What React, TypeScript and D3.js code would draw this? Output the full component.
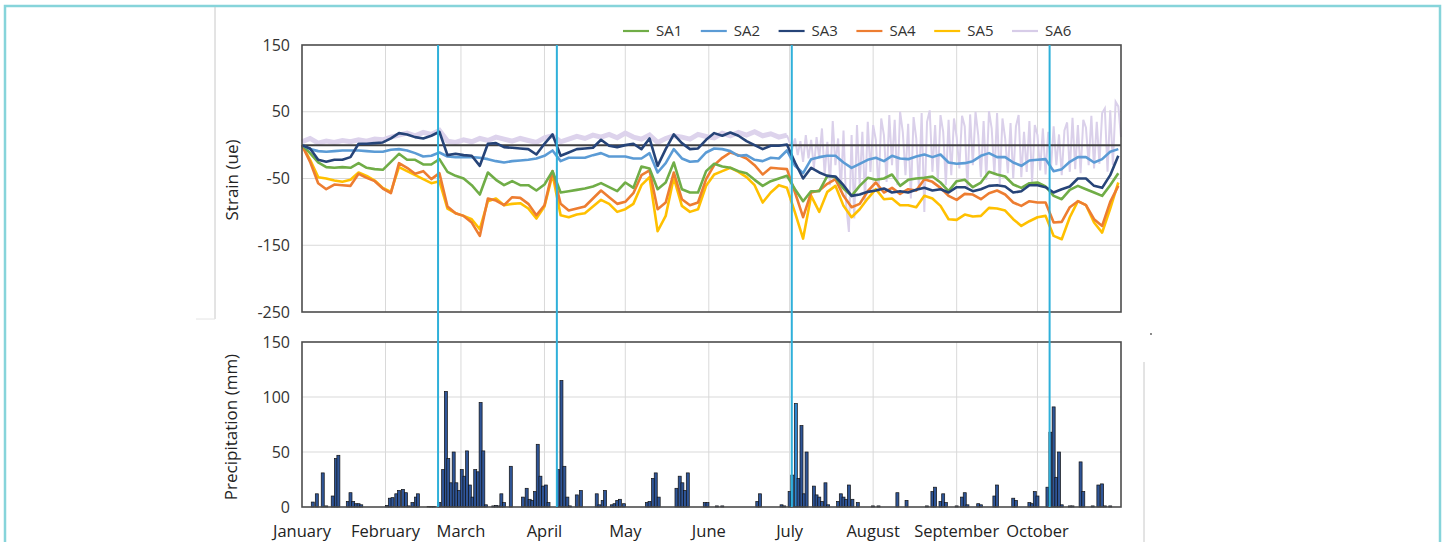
import { useRef, useEffect } from 'react';
import * as d3 from 'd3';

// time axis: Jan 1 .. Nov 1, strain sampled every 3 days
const START = Date.UTC(2019, 0, 1);
const END = Date.UTC(2019, 10, 1);
const STEP_DAYS = 3;
const DAY_MS = 86400000;

const SA1 = [
  0, -12, -26, -33, -34, -33, -34, -27, -34, -36, -37, -25, -13, -22, -22, -29, -29, -21, -40, -46,
  -50, -60, -74, -41, -52, -60, -54, -60, -60, -68, -59, -39, -71, -69, -67, -65, -62, -57, -63, -69,
  -56, -64, -32, -35, -66, -56, -26, -66, -71, -71, -39, -28, -32, -34, -39, -42, -52, -61, -54, -50,
  -46, -66, -84, -69, -69, -46, -48, -65, -76, -61, -49, -52, -50, -44, -61, -52, -50, -49, -47, -56,
  -69, -54, -52, -63, -56, -40, -44, -47, -59, -64, -57, -56, -62, -76, -81, -67, -61, -66, -71, -76,
  -60, -42,
];
const SA2 = [
  0, -6, -9, -10, -9, -8, -8, -8, -9, -10, -10, -7, -6, -8, -12, -17, -16, -11, -17, -18,
  -18, -18, -19, -21, -24, -26, -24, -23, -22, -20, -16, -8, -24, -19, -19, -19, -15, -12, -17, -17,
  -17, -20, -20, -12, -41, -27, -6, -20, -25, -24, -11, -5, -6, -9, -16, -15, -22, -24, -19, -20,
  -8, -31, -42, -21, -18, -16, -16, -26, -34, -28, -22, -19, -24, -16, -20, -21, -17, -14, -18, -14,
  -26, -28, -27, -24, -16, -12, -18, -18, -26, -31, -23, -22, -21, -39, -36, -25, -18, -18, -26, -21,
  -10, -6,
];
const SA3 = [
  0, -5, -22, -25, -22, -22, -18, 2, 2, 3, 4, 10, 18, 16, 12, 10, 14, 20, -15, -13,
  -15, -16, -31, 2, 3, -3, -4, -5, -6, -14, 2, 16, -16, -11, -6, -5, -4, 8, -1, -3,
  0, 2, -6, 10, -31, -6, 16, 3, -6, -5, 8, 18, 14, 19, 14, 6, 0, -6, -1, -1,
  1, -26, -50, -34, -41, -46, -47, -60, -76, -74, -70, -68, -65, -71, -69, -71, -67, -64, -68, -66,
  -71, -63, -63, -69, -66, -61, -60, -62, -71, -69, -60, -60, -63, -71, -66, -62, -50, -50, -61, -64,
  -45, -16,
];
const SA4 = [
  0, -25, -57, -66, -59, -60, -61, -43, -49, -54, -65, -72, -27, -34, -43, -39, -51, -42, -92, -102,
  -106, -116, -136, -80, -83, -90, -78, -79, -88, -105, -90, -39, -88, -98, -95, -92, -80, -68, -78, -88,
  -85, -72, -45, -38, -96, -86, -41, -81, -90, -86, -51, -30, -19, -11, -15, -20, -30, -44, -34, -35,
  -36, -71, -108, -71, -68, -58, -51, -76, -93, -88, -69, -56, -71, -64, -73, -66, -68, -51, -55, -64,
  -76, -82, -73, -74, -81, -72, -68, -74, -86, -91, -84, -86, -86, -116, -115, -93, -84, -90, -111, -121,
  -85, -61,
];
const SA5 = [
  0, -22, -48, -50, -53, -55, -52, -41, -46, -53, -64, -70, -33, -39, -45, -51, -57, -54, -95, -102,
  -106, -111, -126, -84, -80, -90, -88, -87, -95, -110, -92, -44, -105, -108, -104, -102, -92, -82, -88, -100,
  -96, -88, -60, -48, -129, -106, -49, -91, -100, -96, -61, -44, -39, -34, -40, -48, -60, -86, -71, -60,
  -64, -101, -140, -76, -100, -70, -61, -91, -108, -96, -80, -66, -81, -80, -90, -90, -93, -76, -80, -91,
  -111, -112, -104, -107, -106, -94, -95, -98, -111, -121, -114, -108, -106, -136, -141, -108, -84, -90, -116, -131,
  -95, -56,
];
// SA6: smooth-ish until July (every 3 days), then daily spikes
const SA6_EARLY = [
  5, 10, 3, 6, 4, 7, 5, 8, 6, 9, 8, 12, 15, 18, 14, 19, 16, 22, 6, 4,
  8, 5, 10, 7, 12, 9, 6, 10, 7, 4, 11, 14, 5, 9, 13, 10, 15, 12, 16, 11,
  18, 12, 9, 15, 4, 10, 14, 12, 9, 16, 13, 11, 18, 14, 19, 15, 20, 14, 17, 12,
  15,
];
const SA6_LATE_START = 181;
const SA6_LATE = [
  4, -5, 10, -15, 6, -25, 15, -20, 8, -35,
  12, -20, 25, -45, 5, -60, 36, -30, 10, -70,
  22, -90, -130, 15, -110, 30, -60, 20, -85, 35,
  -40, 30, 8, -70, 40, 15, -55, 45, -30, 38,
  -60, 50, 20, -45, 32, -80, 42, 10, -65, 48,
  -100, 35, 52, -40, 30, -55, 45, 20, -60, 38,
  -45, 40, 12, -35, 44, 28, -65, 46, -30, 50,
  15, -48, 36, -52, 51, 25, -45, 48, -58, 40,
  10, -42, 33, -50, 28, 45, -48, 20, -40, 36,
  -55, 30, 15, -38, 25, -44, 20, -35, 28, -30,
  16, -45, 22, 34, -40, 41, -36, 30, -42, 38,
  26, -30, 44, -35, 35, -28, 48, 55, -40, 52,
  -30, 65, 58, 12,
];

// [day offset from Jan 1, mm]
const PRECIP: [number, number][] = [
  [4, 4.5], [5.5, 12], [7.7, 31], [9, 1], [11.4, 10], [12.6, 44], [13.5, 47], [17, 5], [18, 13], [19, 5],
  [20, 3], [21, 3], [22, 2], [31.5, 1.5], [32.6, 8], [33.6, 8.5], [35, 12], [36, 15], [37.5, 16], [38.6, 13],
  [39.6, 1], [41, 4], [42.3, 9], [43, 12], [47, 0.5], [48, 0.5], [49, 0.5], [51, 4], [52.4, 34], [53.4, 105],
  [54.3, 44], [55.3, 22], [56.3, 50], [57.3, 22], [58.3, 15], [59.3, 34], [60.3, 28], [61.3, 51], [62.3, 20], [63.3, 9],
  [64.3, 34], [65.3, 32], [66.3, 95], [67.3, 51], [68.3, 2], [71, 1], [72, 1.5], [73, 1], [74, 12], [75, 4],
  [77.5, 37], [82, 9], [83.4, 17], [84.5, 7], [85.5, 6], [86.5, 14], [87.5, 57], [88.5, 28], [89.5, 19], [90.5, 20],
  [91.5, 4], [95, 34], [96.3, 115], [97.4, 37], [98.5, 9], [99.5, 1], [102, 11], [103.5, 15], [109.4, 12], [110.4, 2],
  [111.6, 6], [112.5, 15], [115, 2], [116, 3], [117, 6], [118, 7], [119.5, 3], [128, 4], [129, 5], [130.3, 26],
  [131.3, 31], [132.4, 9], [139, 17], [140.2, 28], [141.2, 22], [142.2, 15], [143.2, 31], [149.5, 4], [150.5, 4], [154, 1],
  [156, 1], [169, 5], [170, 12], [178, 2], [179, 1], [181, 14], [182, 29], [183.3, 94], [184.3, 26], [185.4, 74],
  [186.3, 12], [187.3, 50], [190, 19], [191, 11], [192, 9], [193, 5], [194.3, 22], [195.3, 2], [199, 5], [200, 12],
  [201, 9], [202, 7], [203, 20], [204.3, 7], [206.3, 4], [212, 1], [214, 1], [221, 13], [224.4, 6], [232, 1],
  [234, 14], [235, 18], [237, 5], [238, 12], [239, 4], [243, 1], [245, 9], [246, 13], [247, 2], [251, 3],
  [252, 2], [257, 10], [258, 20], [264, 8], [265, 6], [270, 4], [271, 3], [272, 14], [273, 10], [276.7, 18],
  [277.8, 68], [279, 91], [280, 27], [281, 50], [282, 2], [285, 1], [286, 1], [289, 41], [290, 14], [293.5, 1],
  [295.6, 20], [297, 21], [298, 1], [300, 1],
];
// lighter bars around the July event
const LIGHT_BAR_DAYS = [182, 183.3];

const EVENT_DAYS = [50.5, 94.6, 181.8, 277.5];

const STRAIN_TICKS = [150, 50, -50, -150, -250];
const RAIN_TICKS = [150, 100, 50, 0];

const SERIES = [
  { name: 'SA1', color: '#70ad47', values: SA1 },
  { name: 'SA2', color: '#5b9bd5', values: SA2 },
  { name: 'SA3', color: '#264478', values: SA3 },
  { name: 'SA4', color: '#ed7d31', values: SA4 },
  { name: 'SA5', color: '#ffc000', values: SA5 },
  { name: 'SA6', color: '#d7cce8', values: SA6_EARLY },
];
const DRAW_ORDER = ['SA5', 'SA4', 'SA1', 'SA2', 'SA3'];

const FONT = "'Open Sans', sans-serif";
const dayToDate = (d: number) => new Date(START + d * DAY_MS);

export default function App() {
  const ref = useRef<SVGSVGElement>(null);

  useEffect(() => {
    if (!ref.current) return;
    const svg = d3.select(ref.current);
    svg.selectAll('*').remove();

    const left = 302, right = 1121;
    const top1 = 45, bot1 = 312;
    const top2 = 342, bot2 = 507;

    const x = d3.scaleUtc().domain([new Date(START), new Date(END)]).range([left, right]);
    const y1 = d3.scaleLinear().domain([-250, 150]).range([bot1, top1]);
    const y2 = d3.scaleLinear().domain([0, 150]).range([bot2, top2]);
    const months = d3.utcMonth.range(new Date(START), new Date(END));

    // page frame
    svg.append('rect').attr('x', 5).attr('y', 6).attr('width', 1435).attr('height', 560)
      .attr('fill', 'none').attr('stroke', '#86d4da').attr('stroke-width', 2.5);
    svg.append('line').attr('x1', 215).attr('x2', 215).attr('y1', 7).attr('y2', 319)
      .attr('stroke', '#c8c8c8');
    svg.append('line').attr('x1', 196).attr('x2', 215).attr('y1', 319).attr('y2', 319)
      .attr('stroke', '#e4e4e4');
    svg.append('line').attr('x1', 1144).attr('x2', 1144).attr('y1', 362).attr('y2', 542)
      .attr('stroke', '#c8c8c8');
    svg.append('circle').attr('cx', 1151).attr('cy', 334).attr('r', 0.9).attr('fill', '#555');

    const panel = (y: d3.ScaleLinear<number, number>, ticks: number[], t: number, b: number) => {
      const g = svg.append('g');
      // grid
      g.selectAll('line.h').data(ticks.filter(v => y(v) > t + 1 && y(v) < b - 1)).join('line')
        .attr('x1', left).attr('x2', right).attr('y1', d => y(d)).attr('y2', d => y(d))
        .attr('stroke', '#d9d9d9');
      g.selectAll('line.v').data(months.slice(1)).join('line')
        .attr('x1', d => x(d)).attr('x2', d => x(d)).attr('y1', t).attr('y2', b)
        .attr('stroke', '#d9d9d9');
      // tick labels
      g.selectAll('text').data(ticks).join('text')
        .attr('x', left - 12).attr('y', d => y(d)).attr('dy', '0.35em')
        .attr('text-anchor', 'end').attr('font-family', FONT).attr('font-size', 16)
        .attr('fill', '#333').text(d => String(d));
      return g;
    };

    panel(y1, STRAIN_TICKS, top1, bot1);
    panel(y2, RAIN_TICKS, top2, bot2);

    // SA6
    const lineDay = d3.line<[number, number]>().x(d => x(dayToDate(d[0]))).y(d => y1(d[1]));
    const sa6Early: [number, number][] = SA6_EARLY.map((v, i) => [i * STEP_DAYS, v]);
    const sa6Late: [number, number][] = SA6_LATE.map((v, i) => [SA6_LATE_START + i, v]);
    svg.append('path').datum(sa6Early).attr('d', lineDay)
      .attr('fill', 'none').attr('stroke', '#ddd3ec').attr('stroke-width', 5);
    svg.append('path').datum([sa6Early[sa6Early.length - 1], ...sa6Late]).attr('d', lineDay)
      .attr('fill', 'none').attr('stroke', '#dad0ea').attr('stroke-width', 2);

    // zero line
    svg.append('line').attr('x1', left).attr('x2', right).attr('y1', y1(0)).attr('y2', y1(0))
      .attr('stroke', '#404040').attr('stroke-width', 2);

    DRAW_ORDER.forEach(name => {
      const s = SERIES.find(q => q.name === name)!;
      const pts: [number, number][] = s.values.map((v, i) => [i * STEP_DAYS, v]);
      svg.append('path').datum(pts).attr('d', lineDay)
        .attr('fill', 'none').attr('stroke', s.color).attr('stroke-width', 2.6)
        .attr('stroke-linejoin', 'round');
    });

    // precipitation bars
    const bw = 3;
    svg.append('g').selectAll('rect').data(PRECIP).join('rect')
      .attr('x', d => x(dayToDate(d[0])) - bw / 2)
      .attr('y', d => y2(d[1]))
      .attr('width', bw)
      .attr('height', d => Math.max(0.5, bot2 - y2(d[1])))
      .attr('fill', d => LIGHT_BAR_DAYS.includes(d[0]) ? '#2e86d0' : '#2f5597')
      .attr('stroke', '#111').attr('stroke-width', 0.7);

    // panel borders
    [[top1, bot1], [top2, bot2]].forEach(([t, b]) => {
      svg.append('rect').attr('x', left).attr('y', t).attr('width', right - left).attr('height', b - t)
        .attr('fill', 'none').attr('stroke', '#4d4d4d').attr('stroke-width', 1.6);
    });

    // event lines
    svg.append('g').selectAll('line').data(EVENT_DAYS).join('line')
      .attr('x1', d => x(dayToDate(d))).attr('x2', d => x(dayToDate(d)))
      .attr('y1', top1).attr('y2', bot2)
      .attr('stroke', '#2fb0da').attr('stroke-width', 2);

    // month labels
    svg.append('g').selectAll('text').data(months).join('text')
      .attr('x', d => x(d)).attr('y', 537).attr('text-anchor', 'middle')
      .attr('font-family', FONT).attr('font-size', 16.5).attr('fill', '#222')
      .text(d => d3.utcFormat('%B')(d));

    // axis titles
    svg.append('text').attr('transform', 'translate(238,180) rotate(-90)')
      .attr('text-anchor', 'middle').attr('font-family', FONT).attr('font-size', 17).attr('fill', '#222')
      .text('Strain (ue)');
    svg.append('text').attr('transform', 'translate(237,427) rotate(-90)')
      .attr('text-anchor', 'middle').attr('font-family', FONT).attr('font-size', 17).attr('fill', '#222')
      .text('Precipitation (mm)');

    // legend
    const lg = svg.append('g').selectAll('g').data(SERIES).join('g')
      .attr('transform', (_, i) => `translate(${623 + i * 77.8},31)`);
    lg.append('line').attr('x1', 0).attr('x2', 26).attr('y1', 0).attr('y2', 0)
      .attr('stroke', d => d.color).attr('stroke-width', 2.2);
    lg.append('text').attr('x', 33).attr('y', 0).attr('dy', '0.36em')
      .attr('font-family', FONT).attr('font-size', 15).attr('fill', '#333')
      .text(d => d.name);
  }, []);

  return (
    <svg ref={ref} width={1446} height={542}
      style={{ position: 'absolute', left: 0, top: 0, background: '#fff' }} />
  );
}
